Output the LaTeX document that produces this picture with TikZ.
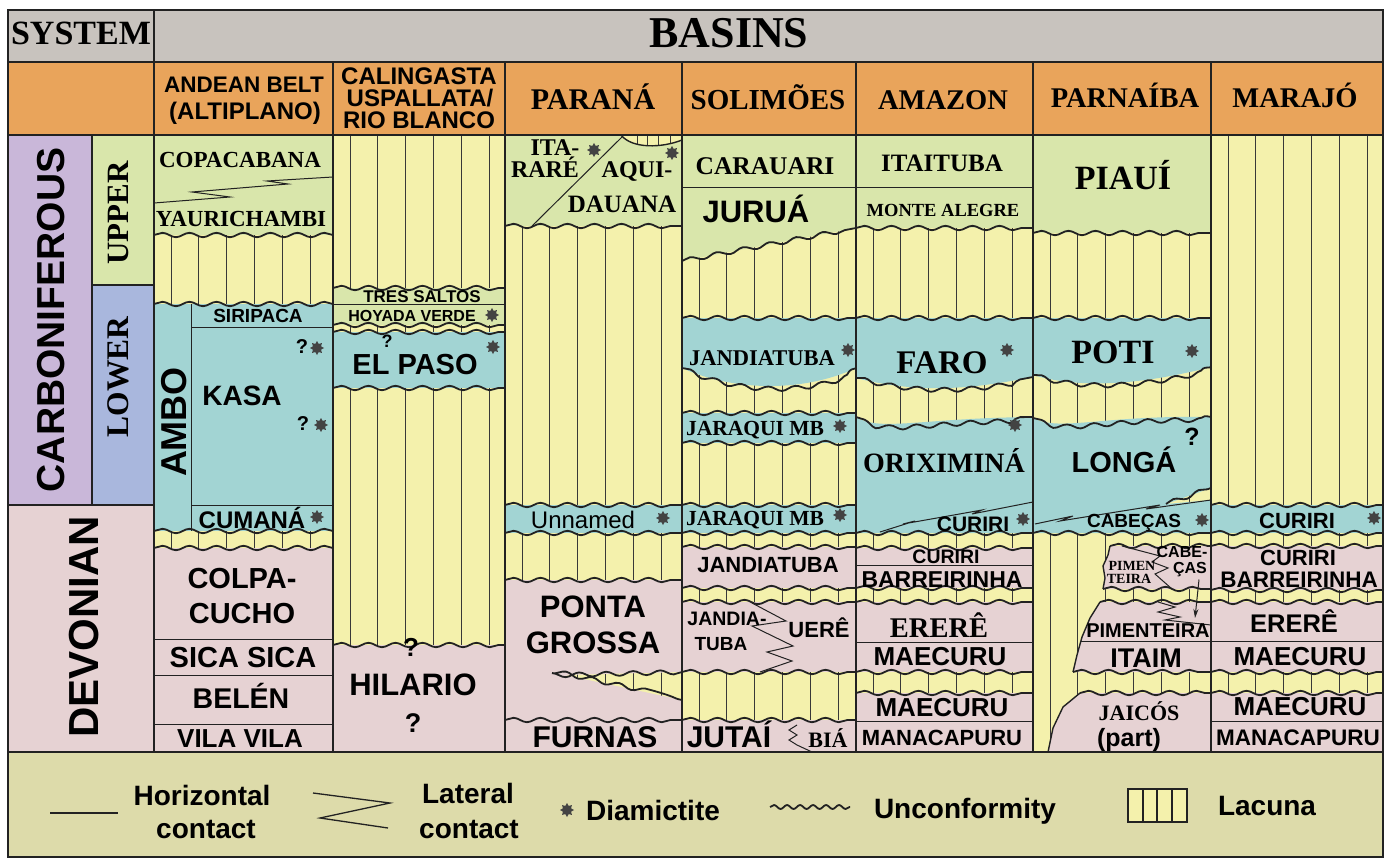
\documentclass[tikz,border=0pt]{standalone}
\usepackage{fontspec}
\setmainfont{Liberation Sans}
\newfontfamily\tmsfam{Liberation Serif}
\usetikzlibrary{arrows.meta,shapes.geometric,decorations.pathmorphing}

\definecolor{hdgray}{HTML}{C8C3BE}
\definecolor{hdorange}{HTML}{E9A45B}
\definecolor{carbpurple}{HTML}{C9B7D9}
\definecolor{lowblue}{HTML}{A9B7DD}
\definecolor{grn}{HTML}{D9E6AB}
\definecolor{blu}{HTML}{A2D4D3}
\definecolor{pnk}{HTML}{E6D2D3}
\definecolor{lac}{HTML}{F4F1AC}
\definecolor{lgd}{HTML}{DDDBAA}
\definecolor{ink}{HTML}{222222}

\begin{document}
\begin{tikzpicture}[x=1pt,y=-1pt,
   sf/.style={font=\bfseries\fontsize{#1}{#1}\selectfont,anchor=base,inner sep=0pt},
   tm/.style={font=\tmsfam\bfseries\fontsize{#1}{#1}\selectfont,anchor=base,inner sep=0pt},
   rsf/.style={sf=#1,rotate=90,anchor=center},
   rtm/.style={tm=#1,rotate=90,anchor=center},
   unc/.style={draw=ink,line width=1.8pt,decorate,
               decoration={snake,segment length=27pt,amplitude=2.2pt}},
   ctc/.style={draw=ink,line width=1pt},
   edge/.style={draw=ink,line width=1.4pt},
   border/.style={draw=ink,line width=1.4pt},
   lacline/.style={draw=ink!90,line width=0.9pt},
   diam/.style={star,star points=8,star point ratio=1.6,fill=ink!85,
                inner sep=0pt,minimum size=14pt}
]
\useasboundingbox (0,0) rectangle (1388,858);

% Header rows
\filldraw[fill=hdgray,border] (8,10) rectangle (1383,62);
\draw[border] (154,10) -- (154,62);
\filldraw[fill=hdorange,border] (8,62) rectangle (1383,135);
\node[tm=34] (system) at (81,45) {SYSTEM};
\node[tm=44] (basins) at (729,48) {BASINS};
\node[sf=22.5] (andean) at (244,93) {ANDEAN BELT};
\node[sf=24] (altiplano) at (245,120) {(ALTIPLANO)};
\node[sf=24] (calin) at (419,85) {CALINGASTA};
\node[sf=24] (uspa) at (420,107) {USPALLATA/};
\node[sf=24] (rio) at (419,129) {RIO BLANCO};
\node[tm=30] (parana) at (593,110) {PARANÁ};
\node[tm=29] (solimoes) at (768,110) {SOLIMÕES};
\node[tm=28.5] (amazon) at (943,110) {AMAZON};
\node[tm=28.5] (parnaiba) at (1125,108) {PARNAÍBA};
\node[tm=28.5] (marajo) at (1295,108) {MARAJÓ};

% System column
\fill[carbpurple] (8,135) rectangle (92,505);
\fill[grn] (92,135) rectangle (154,285);
\fill[lowblue] (92,285) rectangle (154,505);
\fill[pnk] (8,505) rectangle (154,752);
\draw[border] (92,135) -- (92,505) (92,285) -- (154,285) (8,505) -- (154,505);
\node[rsf=39] (carb) at (51,320) {CARBONIFEROUS};
\node[rtm=31] (upper) at (118,213) {UPPER};
\node[rtm=31.5] (lower) at (118,377) {LOWER};
\node[rsf=42] (devon) at (84,627) {DEVONIAN};

% Lacuna background
\fill[lac] (154,135) rectangle (1383,752);
\foreach \c in {154,333,505,682,856,1033,1211}
  \foreach \k in {0,...,5}
    \draw[lacline] ({\c+17+27.8*\k},135) -- ++(0,617);

% Andean belt
\fill[grn] (154,135) rectangle (333,235);
\fill[blu] (154,304) rectangle (333,531);
\fill[pnk] (154,548) rectangle (333,752);
\foreach \y in {235,304,531,548} \draw[unc] (154,\y) -- (333,\y);
\draw[ctc] (154,203) -- (230,197) -- (192,192) -- (288,184) -- (267,181) -- (333,177);
\draw[ctc] (191,304) -- (191,531) (191,327) -- (333,327) (191,505) -- (333,505);
\foreach \y in {639,675,724} \draw[ctc] (154,\y) -- (333,\y);
\node[tm=23] (copa) at (240,168) {COPACABANA};
\node[tm=23] (yauri) at (241,227) {YAURICHAMBI};
\node[rsf=36] (ambo) at (174,422) {AMBO};
\node[sf=19] (siri) at (258,323) {SIRIPACA};
\node[sf=28] (kasa) at (242,405) {KASA};
\node[sf=20] (qkasa1) at (302,353) {?};
\node[diam] (dkasa1) at (317,348) {};
\node[sf=20] (qkasa2) at (303,430) {?};
\node[diam] (dkasa2) at (321,425) {};
\node[sf=24] (cumana) at (252,528) {CUMANÁ};
\node[diam] (dcumana) at (317,517) {};
\node[sf=29] (colpa) at (242,588) {COLPA-};
\node[sf=29] (cucho) at (242,623) {CUCHO};
\node[sf=29] (sica) at (243,667) {SICA SICA};
\node[sf=28.5] (belen) at (241,708) {BELÉN};
\node[sf=26] (vila) at (240,747) {VILA VILA};

% Calingasta
\fill[grn] (333,288) rectangle (505,325);
\fill[blu] (333,332) rectangle (505,388);
\fill[pnk] (333,645) rectangle (505,752);
\foreach \y in {288,325,332,388,645} \draw[unc] (333,\y) -- (505,\y);
\draw[ctc] (333,305) -- (505,305);
\node[sf=17] (tres) at (422,303) {TRES SALTOS};
\node[sf=16] (hoyada) at (412,321) {HOYADA VERDE};
\node[diam] (dhoyada) at (492,315) {};
\node[sf=29] (elpaso) at (415,374) {EL PASO};
\node[sf=18] (qpaso) at (387,347) {?};
\node[diam] (dpaso) at (493,347) {};
\node[sf=26] (qhil1) at (411,656) {?};
\node[sf=31] (hilario) at (413,695) {HILARIO};
\node[sf=27] (qhil2) at (413,732) {?};

% Parana
\fill[grn] (505,135) rectangle (682,226);
\fill[lac] (621,135) .. controls (632,149) and (662,148) .. (682,140) -- (682,135) -- cycle;
\begin{scope}
  \clip (621,135) .. controls (632,149) and (662,148) .. (682,140) -- (682,135) -- cycle;
  \foreach \x in {637,647,658,670} \draw[lacline] (\x,135) -- (\x,150);
\end{scope}
\draw[edge] (621,135) .. controls (632,149) and (662,148) .. (682,140);
\draw[ctc] (532,226) -- (622,137);
\fill[blu] (505,505) rectangle (682,533);
\fill[pnk] (505,580) -- (682,580) -- (682,672) -- (565,675) -- (682,700)
           -- (682,752) -- (505,752) -- cycle;
\foreach \y in {226,505,533,580,720} \draw[unc] (505,\y) -- (682,\y);
\draw[unc] (682,672) -- (565,675) -- (682,700);
\node[tm=24] (ita) at (555,156) {ITA-};
\node[diam] (dita) at (594,150) {};
\node[tm=24] (rare) at (545,178) {RARÉ};
\node[tm=24] (aqui) at (637,178) {AQUI-};
\node[diam] (daqui) at (672,153) {};
\node[tm=25] (dauana) at (622,213) {DAUANA};
\node[sf=24,font=\fontsize{24}{24}\selectfont] (unnamed) at (583,528) {Unnamed};
\node[diam] (dunnamed) at (663,518) {};
\node[sf=31] (ponta) at (593,617) {PONTA};
\node[sf=31] (grossa) at (593,653) {GROSSA};
\node[sf=30] (furnas) at (595,747) {FURNAS};

% Solimoes
\fill[grn] (682,135) -- (856,135) -- (856,228) -- (682,261) -- cycle;
\fill[blu] (682,318) -- (856,318) -- (856,368) .. controls (800,394) and (730,390) .. (682,368) -- cycle;
\fill[blu] (682,413) rectangle (856,443);
\fill[blu] (682,505) rectangle (856,533);
\fill[pnk] (682,547) rectangle (856,588);
\fill[pnk] (682,602) rectangle (856,672);
\fill[pnk] (682,720) rectangle (856,752);
\draw[unc] (682,261) -- (856,228);
\draw[unc] (682,368) .. controls (730,390) and (800,394) .. (856,368);
\foreach \y in {318,413,443,505,533,547,588,602,672,720} \draw[unc] (682,\y) -- (856,\y);
\draw[ctc] (682,188) -- (856,188);
\draw[ctc] (752,603) -- (786,621) -- (752,626) -- (793,646) -- (767,652) -- (792,661) -- (760,672);
\draw[ctc] (797,725) -- (789,730) -- (797,735) -- (789,740) -- (797,745) -- (812,752);
\node[tm=25.5] (carauari) at (765,175) {CARAUARI};
\node[sf=31] (jurua) at (756,223) {JURUÁ};
\node[tm=22.5] (jandsol) at (762,365) {JANDIATUBA};
\node[diam] (djandsol) at (848,350) {};
\node[tm=21.5] (jaraqui1) at (755,435) {JARAQUI MB};
\node[diam] (djaraqui1) at (840,426) {};
\node[tm=21.5] (jaraqui2) at (755,525) {JARAQUI MB};
\node[diam] (djaraqui2) at (840,515) {};
\node[sf=22] (jandpk) at (768,572) {JANDIATUBA};
\node[sf=19.5] (jandia) at (727,625) {JANDIA-};
\node[sf=19] (tuba) at (721,650) {TUBA};
\node[sf=22] (uere) at (819,637) {UERÊ};
\node[sf=30] (jutai) at (729,747) {JUTAÍ};
\node[tm=22] (bia) at (828,747) {BIÁ};

% Amazon
\fill[grn] (856,135) rectangle (1033,228);
\fill[blu] (856,318) -- (1033,318) -- (1033,377) .. controls (990,385) and (930,397) .. (856,378) -- cycle;
\fill[blu] (856,417) .. controls (880,432) and (920,418) .. (1033,417) -- (1033,533) -- (856,533) -- cycle;
\fill[pnk] (856,548) rectangle (1033,588);
\fill[pnk] (856,602) rectangle (1033,672);
\fill[pnk] (856,693) rectangle (1033,752);
\draw[unc] (856,378) .. controls (930,397) and (990,385) .. (1033,377);
\draw[unc] (856,417) .. controls (880,432) and (920,418) .. (1033,417);
\foreach \y in {228,318,533,548,588,602,672,693} \draw[unc] (856,\y) -- (1033,\y);
\draw[ctc] (856,188) -- (1033,188);
\foreach \y in {565,642,721} \draw[ctc] (856,\y) -- (1033,\y);
\draw[ctc] (880,532) -- (915,521) -- (903,524) -- (982,510) -- (972,514) -- (1033,502);
\node[tm=25] (itaituba) at (942,172) {ITAITUBA};
\node[tm=18.5] (monte) at (943,217) {MONTE ALEGRE};
\node[tm=33] (faro) at (942,373) {FARO};
\node[diam] (dfaro) at (1007,350) {};
\node[tm=28] (orix) at (944,472) {ORIXIMINÁ};
\node[diam] (dorix) at (1015,425) {};
\node[sf=21] (curama) at (973,531) {CURIRI};
\node[diam] (dcurama) at (1023,519) {};
\node[sf=19.5] (curamapk) at (946,563) {CURIRI};
\node[sf=23] (barama) at (942,587) {BARREIRINHA};
\node[tm=28.5] (ereama) at (939,637) {ERERÊ};
\node[sf=26] (maeama1) at (940,665) {MAECURU};
\node[sf=26] (maeama2) at (942,716) {MAECURU};
\node[sf=22] (manama) at (942,745) {MANACAPURU};

% Parnaiba
\fill[grn] (1033,135) rectangle (1211,233);
\fill[blu] (1033,318) -- (1211,318) -- (1211,367) .. controls (1160,380) and (1090,392) .. (1033,375) -- cycle;
\fill[blu] (1033,418) .. controls (1060,432) and (1100,415) .. (1211,417) -- (1211,488)
           -- (1166,504) -- (1211,500) -- (1211,533) -- (1033,533) -- cycle;
\fill[pnk] (1110,546) -- (1211,546) -- (1211,589) -- (1103,589) -- (1105,578) -- (1103,566) -- (1108,555) -- cycle;
\fill[pnk] (1100,602) -- (1211,602) -- (1211,672) -- (1073,672) -- (1077,655) -- (1082,637) -- (1090,618) -- cycle;
\fill[pnk] (1080,693) -- (1211,693) -- (1211,752) -- (1048,752) -- (1053,728) -- (1063,707) -- cycle;
\draw[unc] (1033,375) .. controls (1090,392) and (1160,380) .. (1211,367);
\draw[unc] (1033,418) .. controls (1060,432) and (1100,415) .. (1211,417);
\draw[unc] (1166,504) -- (1211,488);
\foreach \y in {233,318,533} \draw[unc] (1033,\y) -- (1211,\y);
\draw[unc] (1110,546) -- (1211,546);
\draw[unc] (1103,589) -- (1211,589);
\draw[unc] (1100,602) -- (1211,602);
\draw[unc] (1073,672) -- (1211,672);
\draw[unc] (1080,693) -- (1211,693);
\draw[edge] (1110,546) -- (1108,555) -- (1103,566) -- (1105,578) -- (1103,589);
\draw[edge] (1100,602) -- (1090,618) -- (1082,637) -- (1077,655) -- (1073,672);
\draw[edge] (1080,693) -- (1063,707) -- (1053,728) -- (1048,752);
\draw[ctc] (1035,524) -- (1073,516) -- (1060,521) -- (1160,505) -- (1146,509) -- (1211,500);
\draw[ctc] (1122,546) -- (1160,556) -- (1152,562) -- (1168,568) -- (1155,574) -- (1172,589);
\draw[ctc] (1158,602) -- (1175,607) -- (1158,612) -- (1180,617) -- (1165,620) -- (1211,625);
\draw[ctc] (1080,641) -- (1211,641);
\node[tm=34] (piaui) at (1123,190) {PIAUÍ};
\node[tm=34] (poti) at (1113,363) {POTI};
\node[diam] (dpoti) at (1192,351) {};
\node[sf=29] (longa) at (1124,472) {LONGÁ};
\node[sf=25] (qlonga) at (1192,445) {?};
\node[sf=19] (cabecas) at (1134,527) {CABEÇAS};
\node[diam] (dcabecas) at (1202,520) {};
\node[sf=16] (cabe) at (1182,557) {CABE-};
\node[sf=16] (cas) at (1190,573) {ÇAS};
\node[tm=14] (pimen) at (1132,570) {PIMEN};
\node[tm=14] (teira) at (1129,583) {TEIRA};
\coordinate (arrtip) at (1195,618);
\draw[ctc,-{Stealth[length=9pt,width=5pt]}] ([xshift=9pt,yshift=-3pt]cas.south) -- (arrtip);
\node[sf=20] (pimenteira) at (1148,637) {PIMENTEIRA};
\node[sf=27] (itaim) at (1146,667) {ITAIM};
\node[tm=22] (jaicos) at (1139,720) {JAICÓS};
\node[sf=25] (part) at (1129,746) {(part)};

% Marajo
\fill[blu] (1211,505) rectangle (1383,533);
\fill[pnk] (1211,546) rectangle (1383,590);
\fill[pnk] (1211,602) rectangle (1383,672);
\fill[pnk] (1211,693) rectangle (1383,752);
\foreach \y in {505,533,546,590,602,672,693} \draw[unc] (1211,\y) -- (1383,\y);
\draw[ctc] (1211,641) -- (1383,641) (1211,721) -- (1383,721);
\node[sf=22] (curmar) at (1297,528) {CURIRI};
\node[diam] (dcurmar) at (1374,518) {};
\node[sf=22] (curmarpk) at (1298,565) {CURIRI};
\node[sf=22.5] (barmar) at (1299,587) {BARREIRINHA};
\node[sf=25.5] (eremar) at (1294,632) {ERERÊ};
\node[sf=26] (maemar1) at (1300,665) {MAECURU};
\node[sf=26] (maemar2) at (1300,715) {MAECURU};
\node[sf=22.5] (manmar) at (1298,745) {MANACAPURU};

% Column borders
\foreach \x in {154,333,505,682,856,1033,1211} \draw[border] (\x,62) -- (\x,752);
\draw[border] (8,135) -- (1383,135);

% Legend
\filldraw[fill=lgd,border] (8,752) rectangle (1383,857);
\draw[ink,line width=1.6pt] (50,813) -- (118,813);
\node[sf=28] (horiz) at (202,805) {Horizontal};
\node[sf=28] (hcontact) at (206,838) {contact};
\draw[ink,line width=1.3pt] (313,793) -- (390,803) -- (320,818) -- (388,828);
\node[sf=28] (lateral) at (468,803) {Lateral};
\node[sf=28] (lcontact) at (469,838) {contact};
\node[diam] (dlegend) at (567,810) {};
\node[sf=28] (diamict) at (653,820) {Diamictite};
\draw[unc,decoration={segment length=13pt,amplitude=2pt}] (770,807) -- (850,807);
\node[sf=28] (uncon) at (965,818) {Unconformity};
\filldraw[fill=lac,draw=ink,line width=1.3pt] (1128,789) rectangle (1187,822);
\foreach \x in {1143,1157,1172} \draw[ink,line width=1.2pt] (\x,789) -- (\x,822);
\node[sf=28] (lacuna) at (1267,815) {Lacuna};

\draw[border] (8,10) rectangle (1383,857);
\end{tikzpicture}
\end{document}
